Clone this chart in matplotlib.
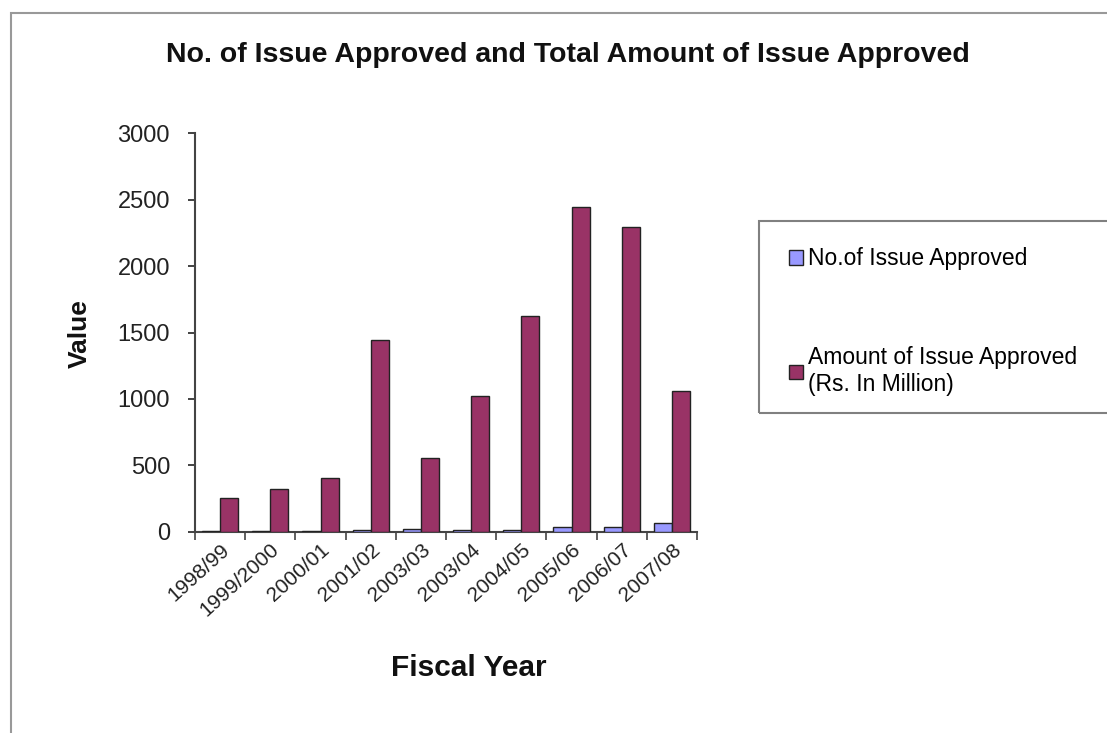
import matplotlib
matplotlib.use('Agg')
import matplotlib.pyplot as plt
import matplotlib.patches as patches
import numpy as np

plt.rcParams['font.family'] = ['Liberation Sans', 'DejaVu Sans']

# data
years = ['1998/99', '1999/2000', '2000/01', '2001/02', '2003/03',
         '2003/04', '2004/05', '2005/06', '2006/07', '2007/08']
issues_approved = [3, 2, 3, 10, 18, 12, 14, 35, 33, 65]
amount_approved = [256, 322, 407, 1446, 553, 1023, 1627, 2446, 2295, 1063]

blue = '#9999FF'
plum = '#993366'

fig = plt.figure(figsize=(11.07, 7.33), dpi=100)
fig.patch.set_facecolor('white')

# outer chart border (only top and left edges fall inside the image)
border = patches.Rectangle((0.0099, -0.5), 2.0, 0.9827 + 0.5,
                           transform=fig.transFigure, fill=False,
                           edgecolor='#999999', linewidth=1.5)
fig.patches.append(border)

ax = fig.add_axes([0.1762, 0.2746, 0.4535, 0.5433])

x = np.arange(len(years))
w = 0.36
ax.bar(x - w / 2, issues_approved, width=w, color=blue,
       edgecolor='#222222', linewidth=1.0, label='No.of Issue Approved', zorder=3)
ax.bar(x + w / 2, amount_approved, width=w, color=plum,
       edgecolor='#222222', linewidth=1.0,
       label='Amount of Issue Approved\n(Rs. In Million)', zorder=3)

ax.set_xlim(-0.5, len(years) - 0.5)
ax.set_ylim(0, 3000)
ax.set_yticks(np.arange(0, 3001, 500))
ax.tick_params(axis='y', labelsize=17, length=5, width=1.2, pad=13,
               direction='out', colors='#222222')

# category labels centred, tick marks on category boundaries
ax.set_xticks(x)
ax.set_xticklabels(years, rotation=42, ha='right', va='top',
                   rotation_mode='anchor', fontsize=15, color='#222222')
ax.tick_params(axis='x', which='major', length=0, pad=6)
ax.set_xticks(np.arange(-0.5, len(years), 1.0), minor=True)
ax.tick_params(axis='x', which='minor', length=6, width=1.2,
               direction='out', color='#444444')

for side in ['top', 'right']:
    ax.spines[side].set_visible(False)
for side in ['left', 'bottom']:
    ax.spines[side].set_color('#444444')
    ax.spines[side].set_linewidth(1.5)

fig.text(568 / 1107, 1 - 55 / 733,
         'No. of Issue Approved and Total Amount of Issue Approved',
         ha='center', va='center', fontsize=20.5, fontweight='bold',
         color='#111111')
fig.text(80 / 1107, 1 - 334 / 733, 'Value', rotation=90,
         ha='center', va='center', fontsize=19, fontweight='bold',
         color='#111111')
fig.text(469 / 1107, 1 - 668 / 733, 'Fiscal Year',
         ha='center', va='center', fontsize=21.5, fontweight='bold',
         color='#111111')

# legend box
legend_box = patches.Rectangle((759 / 1107, 1 - 413 / 733), 0.4, 192 / 733,
                               transform=fig.transFigure, fill=False,
                               edgecolor='#808080', linewidth=1.5)
fig.patches.append(legend_box)

ax.legend(loc='upper left', bbox_to_anchor=(778 / 1107, 1 - 236 / 733),
          bbox_transform=fig.transFigure, frameon=False, fontsize=16.5,
          handlelength=0.6, handleheight=0.6, handletextpad=0.2,
          labelspacing=3.3, borderpad=0)

fig.savefig('out.png', dpi=100, facecolor='white')
